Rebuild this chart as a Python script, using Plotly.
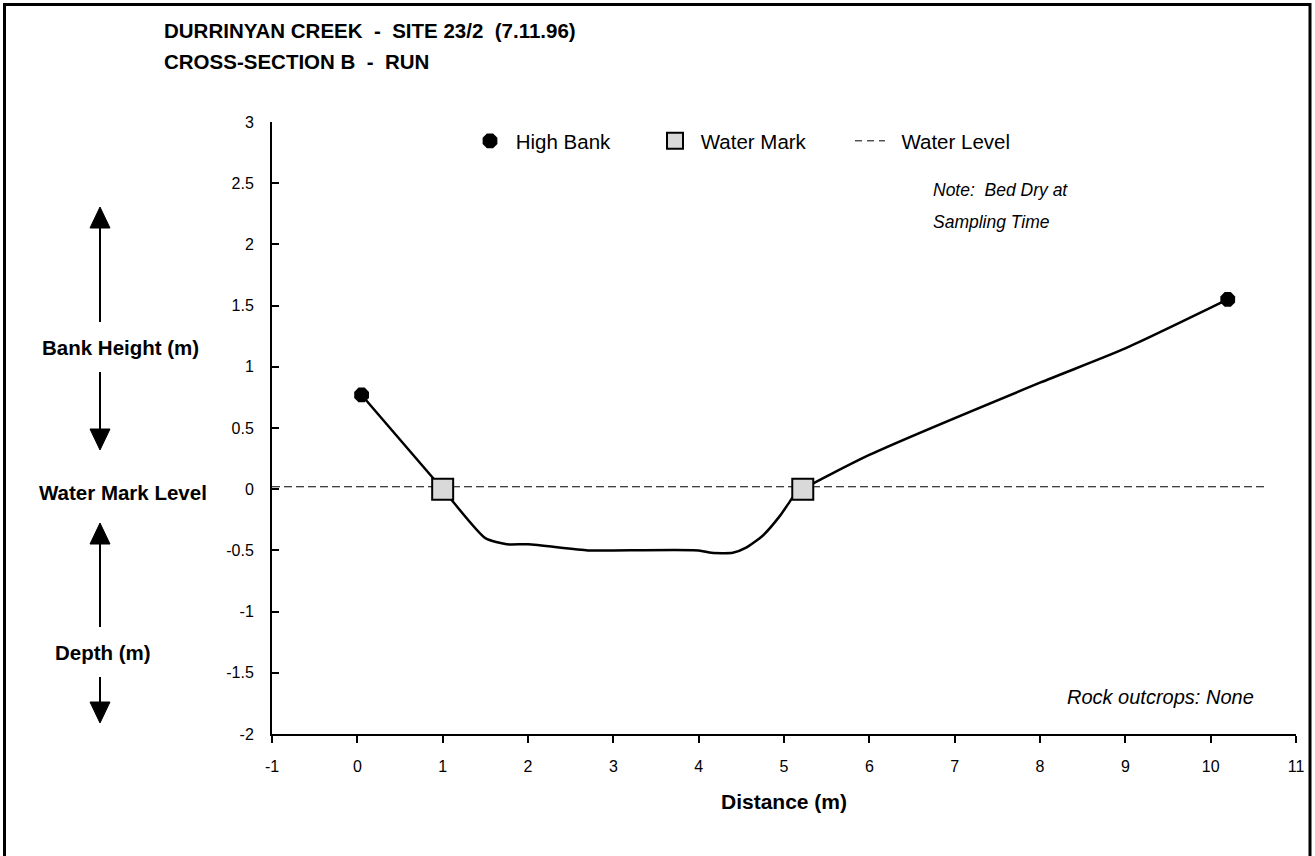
import plotly.graph_objects as go

# ---------------- data ----------------
profile_x = [0.05, 1.0, 1.5, 1.75, 2.0, 2.7, 3.0, 4.0, 4.15, 4.4, 4.55, 4.75, 4.95, 5.05, 5.12, 5.22, 6.0, 8.0, 9.0, 10.2]
profile_y = [0.77, 0.0, -0.40, -0.45, -0.45, -0.50, -0.50, -0.50, -0.52, -0.52, -0.48, -0.38, -0.22, -0.12, -0.05, 0.0, 0.28, 0.87, 1.15, 1.55]

high_bank_x = [0.05, 10.2]
high_bank_y = [0.77, 1.55]

water_mark_x = [1.0, 5.22]
water_mark_y = [0.0, 0.0]

water_level_x = [-1.0, 10.63]
water_level_y = [0.02, 0.02]

x_ticks = list(range(-1, 12))
y_ticks = [-2, -1.5, -1, -0.5, 0, 0.5, 1, 1.5, 2, 2.5, 3]

title_lines = ["DURRINYAN CREEK  -  SITE 23/2  (7.11.96)", "CROSS-SECTION B  -  RUN"]

# ---------------- layout helpers (page pixel -> paper) ----------------
W, H = 1315, 856
L, R, T, B = 272, 1296, 122, 734   # plot area in pixels
def px(x):
    return (x - L) / (R - L)
def py(y):
    return (B - y) / (B - T)

FONT = "Liberation Sans, Arial, sans-serif"
NB = "\u00a0"

fig = go.Figure()

fig.add_trace(go.Scatter(x=water_level_x, y=water_level_y, mode="lines", name="Water Level",
                         line=dict(color="black", width=1, dash="8px,4px"), showlegend=False))
fig.add_trace(go.Scatter(x=profile_x, y=profile_y, mode="lines", name="Profile",
                         line=dict(color="black", width=2.5, shape="spline", smoothing=0.6),
                         showlegend=False))
fig.add_trace(go.Scatter(x=high_bank_x, y=high_bank_y, mode="markers", name=NB + "High Bank",
                         legendwidth=140,
                         marker=dict(symbol="octagon", size=16, color="black",
                                     line=dict(color="black", width=0))))
fig.add_trace(go.Scatter(x=water_mark_x, y=water_mark_y, mode="markers", name=NB + "Water Mark",
                         legendwidth=150,
                         marker=dict(symbol="square", size=21, color="#d9d9d9",
                                     line=dict(color="black", width=2))))
# legend entry for the water level line
fig.add_trace(go.Scatter(x=[None], y=[None], mode="lines", name=NB + NB + "Water Level",
                         line=dict(color="black", width=1, dash="7px,5px")))

shapes = []
# figure border (bottom edge lies outside the page)
shapes.append(dict(type="rect", xref="paper", yref="paper",
                   x0=px(4.5), x1=px(1310), y0=py(866), y1=py(4.5),
                   line=dict(color="black", width=3), layer="below"))

def arrow(xc, tip, base, end):
    hw = 10
    shapes.append(dict(type="line", xref="paper", yref="paper",
                       x0=px(xc), x1=px(xc), y0=py(base), y1=py(end),
                       line=dict(color="black", width=2)))
    shapes.append(dict(type="path", xref="paper", yref="paper",
                       path=f"M {px(xc-hw)},{py(base)} L {px(xc+hw)},{py(base)} L {px(xc)},{py(tip)} Z",
                       fillcolor="black", line=dict(color="black", width=1)))

arrow(100, 207, 228, 322)
arrow(100, 450, 429, 372)
arrow(100, 523, 544, 627)
arrow(100, 723, 702, 677)

annotations = []
for i, t in enumerate(title_lines):
    annotations.append(dict(text=f"<b>{t}</b>", xref="paper", yref="paper",
                            x=px(162), y=py(30 + 32 * i), xanchor="left", yanchor="middle",
                            showarrow=False, font=dict(family=FONT, size=20.5, color="black")))
for txt, xc, yc in [("Bank Height (m)", 120, 347), ("Water Mark Level", 123, 492), ("Depth (m)", 103, 652)]:
    annotations.append(dict(text=f"<b>{txt}</b>", xref="paper", yref="paper", x=px(xc), y=py(yc),
                            xanchor="center", yanchor="middle", showarrow=False,
                            font=dict(family=FONT, size=20.5, color="black")))
for txt, yc in [("Note:  Bed Dry at", 190), ("Sampling Time", 222)]:
    annotations.append(dict(text=f"<i>{txt}</i>", xref="paper", yref="paper", x=px(931), y=py(yc),
                            xanchor="left", yanchor="middle", showarrow=False,
                            font=dict(family=FONT, size=17.5, color="black")))
annotations.append(dict(text="<i>Rock outcrops: None</i>", xref="paper", yref="paper", x=px(1256), y=py(697),
                        xanchor="right", yanchor="middle", showarrow=False,
                        font=dict(family=FONT, size=20, color="black")))

fig.update_layout(
    width=W, height=H,
    margin=dict(l=L, r=W - R, t=T, b=H - B, pad=0),
    paper_bgcolor="white", plot_bgcolor="white",
    font=dict(family=FONT, size=16, color="black"),
    shapes=shapes, annotations=annotations,
    legend=dict(orientation="h", x=px(470), y=py(141), xanchor="left", yanchor="middle",
                bgcolor="rgba(0,0,0,0)", font=dict(family=FONT, size=20.5, color="black"),
                traceorder="normal"),
    xaxis=dict(range=[-1, 11], tickmode="array", tickvals=x_ticks, ticktext=[str(v) for v in x_ticks],
               showgrid=False, zeroline=False, showline=True, linecolor="black", linewidth=2,
               ticks="outside", ticklen=7, tickwidth=2, tickcolor="black",
               tickfont=dict(family=FONT, size=16, color="black"), ticklabelstandoff=10,
               title=dict(text="<b>Distance (m)</b>", font=dict(family=FONT, size=21, color="black"), standoff=20)),
    yaxis=dict(range=[-2, 3], tickmode="array", tickvals=y_ticks, ticktext=[f"{v:g}" for v in y_ticks],
               showgrid=False, zeroline=False, showline=True, linecolor="black", linewidth=2,
               ticks="inside", ticklen=7, tickwidth=2, tickcolor="black",
               tickfont=dict(family=FONT, size=16, color="black"), ticklabelstandoff=13),
)

fig.write_html("out.html", config={"displayModeBar": False},
               post_script="document.body.style.margin='0px';document.body.style.overflow='hidden';")
